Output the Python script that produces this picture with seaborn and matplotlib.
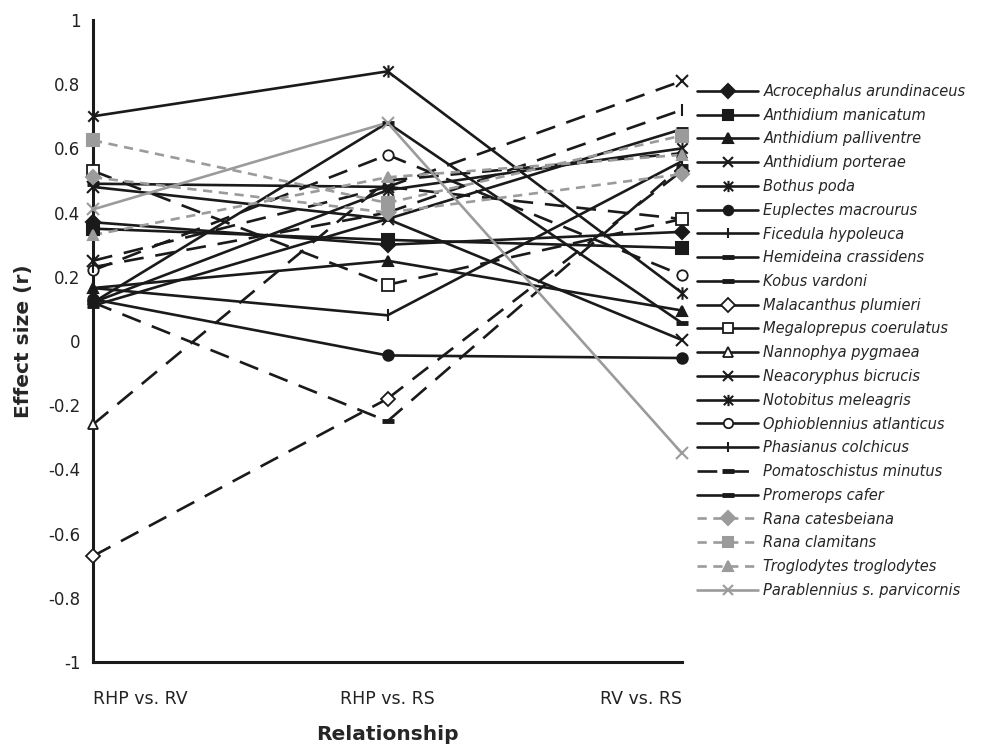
import matplotlib
matplotlib.use('Agg')
import matplotlib.pyplot as plt
from matplotlib.lines import Line2D
from matplotlib.path import Path
import seaborn as sns
import pandas as pd

# categories on the x axis
relationships = ['RHP vs. RV', 'RHP vs. RS', 'RV vs. RS']

species = ['Acrocephalus arundinaceus', 'Anthidium manicatum', 'Anthidium palliventre',
           'Anthidium porterae', 'Bothus poda', 'Euplectes macrourus', 'Ficedula hypoleuca',
           'Hemideina crassidens', 'Kobus vardoni', 'Malacanthus plumieri',
           'Megaloprepus coerulatus', 'Nannophya pygmaea', 'Neacoryphus bicrucis',
           'Notobitus meleagris', 'Ophioblennius atlanticus', 'Phasianus colchicus',
           'Pomatoschistus minutus', 'Promerops cafer', 'Rana catesbeiana',
           'Rana clamitans', 'Troglodytes troglodytes', 'Parablennius s. parvicornis']

# effect sizes (r), one value per relationship
acrocephalus = [0.37, 0.30, 0.34]
a_manicatum = [0.35, 0.315, 0.29]
a_palliventre = [0.165, 0.25, 0.095]
a_porterae = [0.48, 0.38, 0.003]
bothus = [0.70, 0.84, 0.15]
euplectes = [0.13, -0.045, -0.053]
ficedula = [0.165, 0.08, 0.56]
hemideina = [0.12, 0.68, 0.056]
kobus = [0.49, 0.48, 0.38]
malacanthus = [-0.67, -0.18, 0.53]
megaloprepus = [0.53, 0.175, 0.38]
nannophya = [-0.26, 0.50, 0.585]
neacoryphus = [0.25, 0.48, 0.81]
notobitus = [0.12, 0.47, 0.60]
ophioblennius = [0.22, 0.58, 0.205]
phasianus = [0.23, 0.40, 0.72]
pomatoschistus = [0.12, -0.25, 0.545]
promerops = [0.11, 0.38, 0.66]
rana_cat = [0.51, 0.40, 0.52]
rana_clam = [0.625, 0.43, 0.64]
troglodytes = [0.33, 0.51, 0.58]
parablennius = [0.41, 0.68, -0.35]

values = [acrocephalus, a_manicatum, a_palliventre, a_porterae, bothus, euplectes,
          ficedula, hemideina, kobus, malacanthus, megaloprepus, nannophya, neacoryphus,
          notobitus, ophioblennius, phasianus, pomatoschistus, promerops, rana_cat,
          rana_clam, troglodytes, parablennius]

GREY = '#9b9b9b'
LONG = (0, (7.5, 4.5))
SHORT = (0, (3.5, 2.5))
# Excel style asterisk: a cross with a vertical stroke
ASTER = Path([(-1, -1), (1, 1), (-1, 1), (1, -1), (0, -1.2), (0, 1.2)],
             [Path.MOVETO, Path.LINETO] * 3)

# marker, face colour, line colour, legend line style
looks = [
    ('D', 'k', 'k', '-'), ('s', 'k', 'k', '-'), ('^', 'k', 'k', '-'),
    ('x', 'k', 'k', '-'), (ASTER, 'k', 'k', '-'), ('o', 'k', 'k', '-'),
    ('|', 'k', 'k', '-'), ('_', 'k', 'k', '-'), ('_', 'k', 'k', '-'),
    ('D', 'w', 'k', '-'), ('s', 'w', 'k', '-'), ('^', 'w', 'k', '-'),
    ('x', 'k', 'k', '-'), (ASTER, 'k', 'k', '-'), ('o', 'w', 'k', '-'),
    ('|', 'k', 'k', '-'), ('_', 'k', 'k', LONG), ('_', 'k', 'k', '-'),
    ('D', GREY, GREY, SHORT), ('s', GREY, GREY, SHORT), ('^', GREY, GREY, SHORT),
    ('x', GREY, GREY, '-'),
]

# line style of each of the two segments (dashed = long dash)
segments = [
    ('-', '-'), ('-', '-'), ('-', '-'), ('-', '-'), ('-', '-'), ('-', '-'),
    ('-', '-'), ('-', '-'), ('-', LONG), (LONG, LONG), (LONG, LONG), (LONG, LONG),
    (LONG, LONG), ('-', '-'), (LONG, LONG), (LONG, LONG), (LONG, LONG), ('-', '-'),
    (SHORT, SHORT), (SHORT, SHORT), (SHORT, SHORT), ('-', '-'),
]

sns.set_theme(style='white')
plt.rcParams['font.family'] = ['DejaVu Sans']
plt.rcParams['axes.unicode_minus'] = False

fig = plt.figure(figsize=(9.97, 7.45), dpi=100)
ax = fig.add_axes([93 / 997, 1 - 662 / 745, 589 / 997, 642 / 745])

pos = [0, 1, 2]
handles = []
for name, vals, (mk, face, col, leg_ls), segs in zip(species, values, looks, segments):
    df = pd.DataFrame({'x': pos, 'r': vals})
    for i, ls in enumerate(segs):
        sns.lineplot(data=df.iloc[i:i + 2], x='x', y='r', ax=ax, color=col, lw=1.9,
                     linestyle=ls, sort=False, zorder=2)
    ms = 7.5 if isinstance(mk, str) and mk in ('D', '^', 'o') else 8
    if isinstance(mk, str) and mk == 's':
        ms = 8.5
    if isinstance(mk, Path):
        ms = 9
    mew = 1.3 if face == 'w' else 1.5
    if isinstance(mk, str) and mk == '_':
        mew = 3.5
        ms = 9
    sns.lineplot(data=df, x='x', y='r', ax=ax, linestyle='', marker=mk, ms=ms,
                 mfc=face, mec=col, mew=mew, color=col, zorder=3, clip_on=False)
    handles.append(Line2D([], [], color=col, lw=1.9, linestyle=leg_ls, marker=mk,
                          ms=ms * 0.9, mfc=face, mec=col, mew=mew, label=name))

ax.set_xlim(0, 2)
ax.set_ylim(-1, 1)
ax.set_xticks(pos)
ax.set_xticklabels(relationships, fontsize=12.5)
for lab, ha in zip(ax.get_xticklabels(), ['left', 'center', 'right']):
    lab.set_ha(ha)
yt = [round(-1 + 0.2 * i, 1) for i in range(11)]
ax.set_yticks(yt)
ax.set_yticklabels([f'{v:g}' for v in yt], fontsize=12)
ax.tick_params(axis='x', direction='out', length=5, width=1.6, pad=15, colors='k')
ax.tick_params(axis='y', direction='out', length=5, width=1.6, pad=4, colors='k')
for lab in ax.get_xticklabels() + ax.get_yticklabels():
    lab.set_color('#222222')
for side in ['top', 'right']:
    ax.spines[side].set_visible(False)
for side in ['left', 'bottom']:
    ax.spines[side].set_linewidth(2.2)
    ax.spines[side].set_color('k')
ax.set_xlabel('')
ax.set_ylabel('')

fig.text(24 / 997, 1 - 341 / 745, 'Effect size (r)', rotation=90, ha='center',
         va='center', fontsize=14.5, fontweight='bold')
fig.text(387 / 997, 1 - 734 / 745, 'Relationship', ha='center', va='center',
         fontsize=14.5, fontweight='bold')

leg = fig.legend(handles=handles, loc='upper left', bbox_to_anchor=(697 / 997, 1 - 84 / 745),
                 frameon=False, fontsize=10.5, handlelength=4.2, handletextpad=0.35,
                 labelspacing=0.6, borderpad=0, borderaxespad=0)
for t in leg.get_texts():
    t.set_fontstyle('italic')

fig.savefig('out.png', dpi=100)
